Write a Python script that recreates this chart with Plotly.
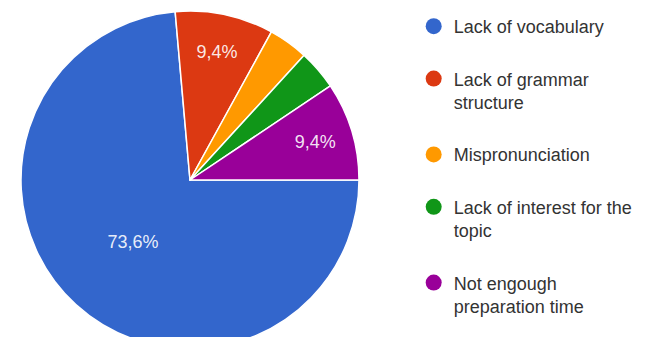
import plotly.graph_objects as go

categories = ["Lack of vocabulary", "Lack of grammar<br>structure", "Mispronunciation",
              "Lack of interest for the<br>topic", "Not engough<br>preparation time"]
values = [73.6, 9.4, 3.8, 3.8, 9.4]
slice_labels = ["73,6%", "9,4%", "", "", "9,4%"]
colors = ["#3366cc", "#dc3912", "#ff9900", "#109618", "#990099"]

fig = go.Figure()
fig.add_trace(go.Pie(
    labels=categories, values=values, sort=False, direction="clockwise", rotation=90,
    marker=dict(colors=colors, line=dict(color="white", width=1.5)),
    text=slice_labels, textinfo="text", textposition="inside",
    insidetextorientation="horizontal",
    insidetextfont=dict(color="rgba(255,255,255,0.9)", size=18, family="Liberation Sans, Arial"),
    showlegend=False, hoverinfo="label+percent",
    domain=dict(x=[0, 340 / 636], y=[0, 1]),
))
for c, col in zip(categories, colors):
    fig.add_trace(go.Scatter(x=[None], y=[None], mode="markers", name=c,
                             legendgroup=c,
                             marker=dict(color=col, size=18, symbol="circle")))

fig.update_layout(
    width=648, height=341,
    margin=dict(l=12, r=0, t=1, b=0),
    paper_bgcolor="white", plot_bgcolor="white",
    xaxis=dict(visible=False), yaxis=dict(visible=False),
    legend=dict(x=0.619, y=1.009, xanchor="left", yanchor="top",
                font=dict(size=18, color="#333333", family="Liberation Sans, Arial"),
                valign="top", tracegroupgap=26, itemsizing="trace",
                maxheight=400, bgcolor="rgba(0,0,0,0)"),
    showlegend=True,
)
fig.write_html("out.html")
